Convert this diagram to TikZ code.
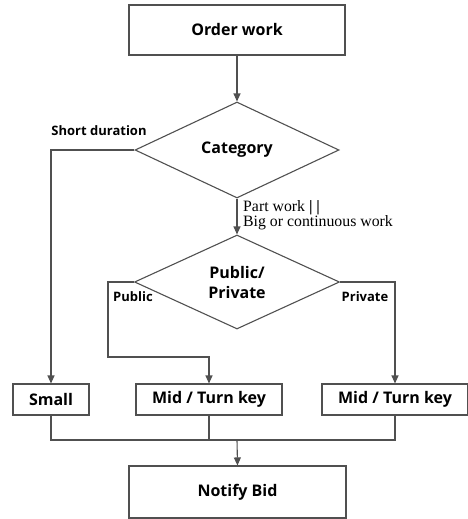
\documentclass[tikz,border=0pt]{standalone}
\usepackage{fontspec}
\usepackage{xcolor}
\usetikzlibrary{shapes.geometric,arrows.meta}
\newfontfamily\boxfont{Open Sans}
\newfontfamily\condfont{Liberation Serif}
\definecolor{linegray}{HTML}{505050}

\tikzset{
  flowbox/.style={draw=linegray,line width=1.1pt,rectangle,inner sep=0pt,
    font=\boxfont\bfseries\fontsize{16}{19}\selectfont},
  decide/.style={draw=linegray,line width=1.1pt,diamond,inner sep=0pt,align=center,
    font=\boxfont\bfseries\fontsize{16}{20}\selectfont},
  flow/.style={draw=linegray,line width=1.1pt},
  flowarrow/.style={flow,-{Triangle[length=8pt,width=7pt]}},
  branchlabel/.style={font=\boxfont\bfseries\fontsize{13}{15}\selectfont},
}

\begin{document}
\begin{tikzpicture}[x=1pt,y=-1pt]
        \useasboundingbox (0,0) rectangle (468,519);
        % Order work
        \node[flowbox,minimum width=216pt,minimum height=50pt] (order) at (237,30) {Order work};
        % Category
        \node[decide,minimum width=204pt,minimum height=96pt] (category) at (237,150) {Category};
        \draw[flowarrow] (order.south) -- (category.north);
        % Public / Private
        \node[decide,minimum width=205pt,minimum height=94pt] (pubpriv) at (237,282) {Public/\\Private};
        \draw[flowarrow] (category.south) -- (pubpriv.north);
        \node[anchor=west,font=\condfont\fontsize{15.8}{15}\selectfont,align=left,inner sep=0pt] (partlbl) at (243,215)
          {Part work {\bfseries| |}\\Big or continuous work};
        % Bottom row
        \node[flowbox,minimum width=76pt,minimum height=31pt] (small) at (51,399.5) {Small};
        \node[flowbox,minimum width=146pt,minimum height=31pt] (midpub) at (209,399.5) {Mid / Turn key};
        \node[flowbox,minimum width=146pt,minimum height=31pt] (midpriv) at (395,399.5) {Mid / Turn key};
        % Short duration
        \draw[flowarrow] (category.west) -| (small.north);
        \node[branchlabel] (shortlbl) at (99,131) {Short duration};
        % Public branch
        \coordinate (pubturn) at (108,357);
        \draw[flowarrow] (pubpriv.west) -| (pubturn) -| (midpub.north);
        \node[branchlabel] (publbl) at (133,297) {Public};
        % Private branch
        \draw[flowarrow] (pubpriv.east) -| (midpriv.north);
        \node[branchlabel] (privlbl) at (365,297) {Private};
        % Notify Bid
        \node[flowbox,minimum width=217pt,minimum height=52pt] (notify) at (237.5,492) {Notify Bid};
        \coordinate (join) at (237,440);
        \draw[flow] (small.south) |- (join);
        \draw[flow] (midpub.south) |- (join);
        \draw[flow] (midpriv.south) |- (join);
        \draw[flowarrow] (join) -- (notify.north);
    \end{tikzpicture}
\end{document}
